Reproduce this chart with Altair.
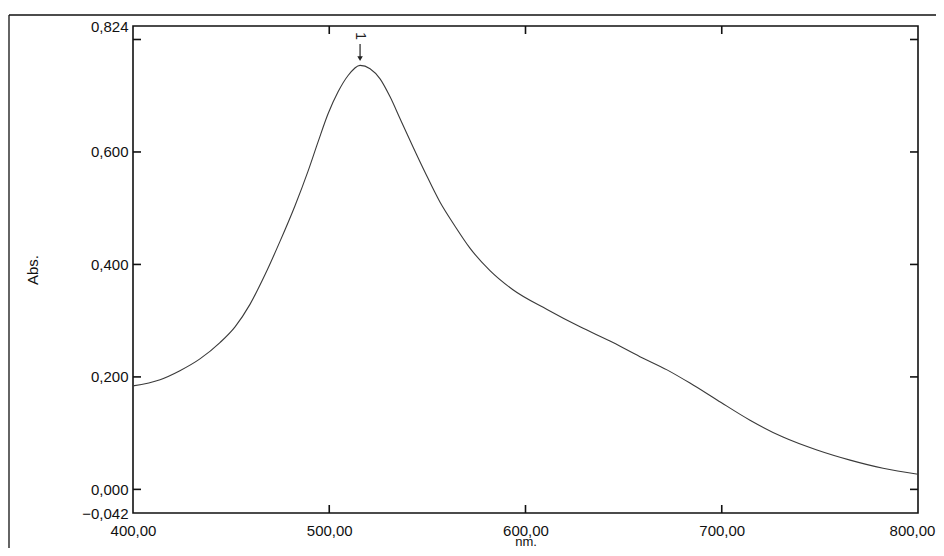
import altair as alt
import pandas as pd

# Spectrum
wavelength_nm = [400.0, 413.8, 423.9, 434.1, 444.3, 452.0, 459.6, 467.3, 474.9, 482.5,
                 489.2, 494.3, 499.4, 504.5, 509.6, 515.7, 520.8, 525.9, 531.0, 536.1,
                 542.7, 548.8, 556.4, 564.1, 571.7, 581.9, 593.6, 611.0, 627.8, 644.6,
                 658.3, 672.1, 683.8, 697.6, 714.4, 731.2, 748.5, 765.4, 782.2, 800.0]
absorbance = [0.184, 0.195, 0.211, 0.232, 0.261, 0.289, 0.329, 0.382, 0.441, 0.504,
              0.566, 0.618, 0.668, 0.707, 0.736, 0.754, 0.748, 0.730, 0.698, 0.659,
              0.609, 0.564, 0.511, 0.468, 0.429, 0.389, 0.355, 0.320, 0.289, 0.261,
              0.236, 0.2125, 0.189, 0.159, 0.123, 0.093, 0.070, 0.052, 0.0375, 0.027]

x_labels = [400, 500, 600, 700, 800]
x_ticks = [500, 600, 700]
y_labels = [-0.042, 0.0, 0.2, 0.4, 0.6, 0.824]
y_ticks = [0.0, 0.2, 0.4, 0.6, 0.8]

peak_nm = [515.7]
peak_abs = [0.754]
peak_label = ["1"]

W, H = 785, 487
FONT = "Liberation Sans"

df = pd.DataFrame({"nm": wavelength_nm, "abs": absorbance})
xs = alt.Scale(domain=[400, 800], nice=False, zero=False)
ys = alt.Scale(domain=[-0.042, 0.824], nice=False, zero=False)

line = alt.Chart(df).mark_line(color="#3a3a3a", strokeWidth=1.1, interpolate="monotone").encode(
    x=alt.X("nm:Q", scale=xs, title="nm.",
            axis=alt.Axis(values=x_labels, ticks=False, domain=False, grid=False,
                          labelExpr="replace(format(datum.value, '.2f'), '.', ',')",
                          labelFlush=False, labelOverlap=False, labelPadding=10,
                          labelOffset={"condition": {"test": "datum.value == 800", "value": -6}, "value": 0},
                          labelFontSize=15, labelFont=FONT, labelColor="#111",
                          titleFont=FONT, titleFontSize=13, titleFontWeight="normal",
                          titleColor="#111", titleY=28, titleBaseline="middle")),
    y=alt.Y("abs:Q", scale=ys, title="Abs.",
            axis=alt.Axis(values=y_labels, ticks=False, domain=False, grid=False,
                          labelExpr="replace(format(datum.value, '.3f'), '.', ',')",
                          labelOverlap=False, labelPadding=5, labelFlush=False,
                          labelFontSize=15, labelFont=FONT, labelColor="#111",
                          titleFont=FONT, titleFontSize=15, titleFontWeight="normal",
                          titleColor="#111", titleX=-101, titleBaseline="middle")),
)

ytick_df = pd.DataFrame({"abs": y_ticks})
xtick_df = pd.DataFrame({"nm": x_ticks})
tick_style = dict(color="#111", strokeWidth=1.6)

ytl = alt.Chart(ytick_df).mark_rule(**tick_style).encode(
    y=alt.Y("abs:Q", scale=ys), x=alt.value(0), x2=alt.value(8))
ytr = alt.Chart(ytick_df).mark_rule(**tick_style).encode(
    y=alt.Y("abs:Q", scale=ys), x=alt.value(W - 8), x2=alt.value(W))
xtt = alt.Chart(xtick_df).mark_rule(**tick_style).encode(
    x=alt.X("nm:Q", scale=xs), y=alt.value(0), y2=alt.value(8))
xtb = alt.Chart(xtick_df).mark_rule(**tick_style).encode(
    x=alt.X("nm:Q", scale=xs), y=alt.value(H - 8), y2=alt.value(H))

peak_df = pd.DataFrame({"nm": peak_nm, "abs": peak_abs, "lab": peak_label})
shaft = alt.Chart(peak_df).transform_calculate(
    top="datum.abs + 0.038", bot="datum.abs + 0.012"
).mark_rule(color="#222", strokeWidth=1.2).encode(
    x=alt.X("nm:Q", scale=xs), y=alt.Y("top:Q", scale=ys), y2="bot:Q")
head = alt.Chart(peak_df).transform_calculate(
    tip="datum.abs + 0.012"
).mark_point(shape="triangle-down", filled=True, color="#222", size=30, opacity=1).encode(
    x=alt.X("nm:Q", scale=xs), y=alt.Y("tip:Q", scale=ys))
lab = alt.Chart(peak_df).transform_calculate(
    ly="datum.abs + 0.052"
).mark_text(angle=90, font=FONT, fontSize=14, color="#222", baseline="middle", align="center").encode(
    x=alt.X("nm:Q", scale=xs), y=alt.Y("ly:Q", scale=ys), text="lab:N")

frame_top = alt.Chart(peak_df).mark_rule(color="#111", strokeWidth=1.3).encode(
    x=alt.value(-124), x2=alt.value(W + 30), y=alt.value(-11))
frame_left = alt.Chart(peak_df).mark_rule(color="#111", strokeWidth=1.3).encode(
    x=alt.value(-124), y=alt.value(-11), y2=alt.value(H + 50))

chart = alt.layer(frame_top, frame_left, line, ytl, ytr, xtt, xtb, shaft, head, lab).properties(
    width=W, height=H,
    autosize=alt.AutoSizeParams(type="none"),
    padding={"left": 125, "top": 18, "right": 18, "bottom": 35},
    background="white",
).configure_view(stroke="#111", strokeWidth=1.6)

chart.save("out.html", embed_options={"renderer": "svg", "actions": False})
